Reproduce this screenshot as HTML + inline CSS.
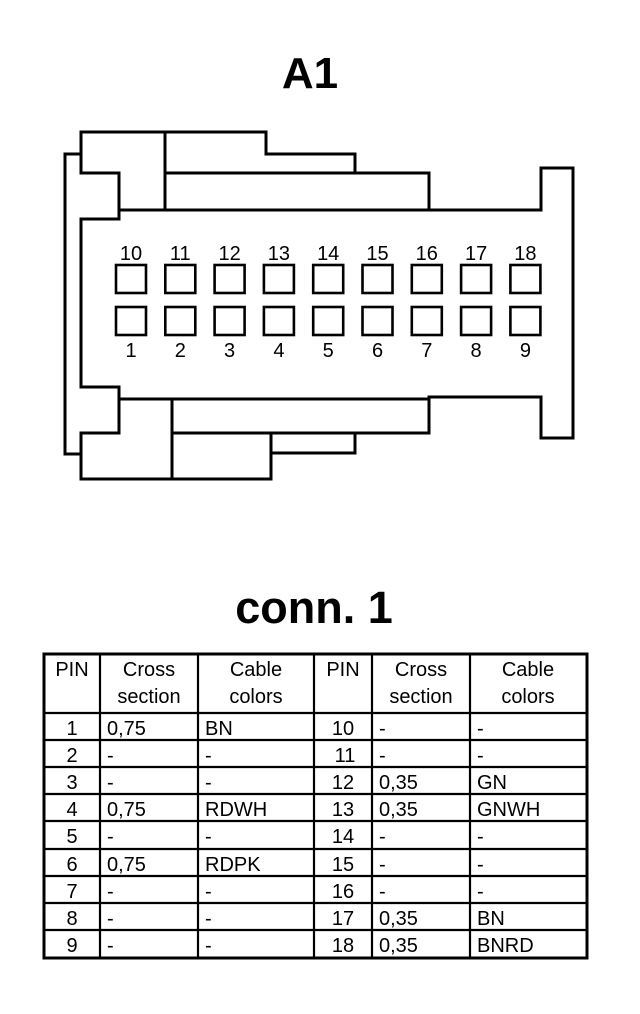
<!DOCTYPE html>
<html><head><meta charset="utf-8"><style>
html,body{margin:0;padding:0;background:#fff;width:640px;height:1014px;overflow:hidden}
svg{display:block}
text{font-family:"Liberation Sans",Arial,sans-serif;fill:#000}
</style></head><body>
<svg width="640" height="1014" viewBox="0 0 640 1014" xmlns="http://www.w3.org/2000/svg">
<text x="310" y="88" font-size="44" font-weight="bold" text-anchor="middle">A1</text>
<g fill="none" stroke="#000" stroke-width="3" stroke-linejoin="miter" stroke-linecap="square">
<polyline points="81,154 65,154 65,454 81,454"/>
<polyline points="119,210 119,173 81,173 81,132 266,132 266,154 355,154 355,173"/>
<line x1="165" y1="132" x2="165" y2="210"/>
<line x1="165" y1="173" x2="429" y2="173"/>
<line x1="429" y1="173" x2="429" y2="210"/>
<polyline points="119,210 541,210 541,168 573,168 573,438 541,438 541,397 429,397"/>
<polyline points="119,210 119,219 81,219 81,387 119,387 119,399 429,399"/>
<line x1="429" y1="397" x2="429" y2="433"/>
<polyline points="119,399 119,433 81,433 81,479 271,479 271,433"/>
<line x1="172" y1="399" x2="172" y2="479"/>
<line x1="172" y1="433" x2="429" y2="433"/>
<polyline points="355,433 355,453 271,453"/>
</g>
<g fill="none" stroke="#000" stroke-width="2.6">
<rect x="116" y="265" width="30" height="28"/><rect x="165.3" y="265" width="30" height="28"/><rect x="214.6" y="265" width="30" height="28"/><rect x="263.9" y="265" width="30" height="28"/><rect x="313.2" y="265" width="30" height="28"/><rect x="362.5" y="265" width="30" height="28"/><rect x="411.8" y="265" width="30" height="28"/><rect x="461.1" y="265" width="30" height="28"/><rect x="510.4" y="265" width="30" height="28"/>
<rect x="116" y="307" width="30" height="28"/><rect x="165.3" y="307" width="30" height="28"/><rect x="214.6" y="307" width="30" height="28"/><rect x="263.9" y="307" width="30" height="28"/><rect x="313.2" y="307" width="30" height="28"/><rect x="362.5" y="307" width="30" height="28"/><rect x="411.8" y="307" width="30" height="28"/><rect x="461.1" y="307" width="30" height="28"/><rect x="510.4" y="307" width="30" height="28"/>
</g>
<g font-size="20" text-anchor="middle">
<text x="131" y="260">10</text><text x="180.3" y="260">11</text><text x="229.6" y="260">12</text><text x="278.9" y="260">13</text><text x="328.2" y="260">14</text><text x="377.5" y="260">15</text><text x="426.8" y="260">16</text><text x="476.1" y="260">17</text><text x="525.4" y="260">18</text>
<text x="131" y="357">1</text><text x="180.3" y="357">2</text><text x="229.6" y="357">3</text><text x="278.9" y="357">4</text><text x="328.2" y="357">5</text><text x="377.5" y="357">6</text><text x="426.8" y="357">7</text><text x="476.1" y="357">8</text><text x="525.4" y="357">9</text>
</g>
<text x="314" y="623" font-size="45" font-weight="bold" text-anchor="middle">conn. 1</text>
<g stroke="#000" fill="none">
<rect x="44" y="654" width="543" height="304" stroke-width="3"/>
<g stroke-width="2.2">
<line x1="100" y1="654" x2="100" y2="958"/><line x1="198" y1="654" x2="198" y2="958"/>
<line x1="314" y1="654" x2="314" y2="958"/><line x1="372" y1="654" x2="372" y2="958"/>
<line x1="470" y1="654" x2="470" y2="958"/>
<line x1="44" y1="713" x2="587" y2="713"/><line x1="44" y1="740" x2="587" y2="740"/>
<line x1="44" y1="767" x2="587" y2="767"/><line x1="44" y1="794" x2="587" y2="794"/>
<line x1="44" y1="821" x2="587" y2="821"/><line x1="44" y1="849" x2="587" y2="849"/>
<line x1="44" y1="876" x2="587" y2="876"/><line x1="44" y1="903" x2="587" y2="903"/>
<line x1="44" y1="930" x2="587" y2="930"/>
</g></g>
<g font-size="20">
<g text-anchor="middle">
<text x="72" y="676">PIN</text><text x="149" y="676">Cross</text><text x="149" y="703">section</text>
<text x="256" y="676">Cable</text><text x="256" y="703">colors</text>
<text x="343" y="676">PIN</text><text x="421" y="676">Cross</text><text x="421" y="703">section</text>
<text x="528" y="676">Cable</text><text x="528" y="703">colors</text>
<text x="72" y="735">1</text><text x="72" y="762">2</text><text x="72" y="789">3</text><text x="72" y="816">4</text><text x="72" y="843">5</text><text x="72" y="871">6</text><text x="72" y="898">7</text><text x="72" y="925">8</text><text x="72" y="952">9</text>
<text x="343" y="735">10</text><text x="345" y="762">11</text><text x="343" y="789">12</text><text x="343" y="816">13</text><text x="343" y="843">14</text><text x="343" y="871">15</text><text x="343" y="898">16</text><text x="343" y="925">17</text><text x="343" y="952">18</text>
</g>
<text x="107" y="735">0,75</text><text x="107" y="762">-</text><text x="107" y="789">-</text><text x="107" y="816">0,75</text><text x="107" y="843">-</text><text x="107" y="871">0,75</text><text x="107" y="898">-</text><text x="107" y="925">-</text><text x="107" y="952">-</text>
<text x="205" y="735">BN</text><text x="205" y="762">-</text><text x="205" y="789">-</text><text x="205" y="816">RDWH</text><text x="205" y="843">-</text><text x="205" y="871">RDPK</text><text x="205" y="898">-</text><text x="205" y="925">-</text><text x="205" y="952">-</text>
<text x="379" y="735">-</text><text x="379" y="762">-</text><text x="379" y="789">0,35</text><text x="379" y="816">0,35</text><text x="379" y="843">-</text><text x="379" y="871">-</text><text x="379" y="898">-</text><text x="379" y="925">0,35</text><text x="379" y="952">0,35</text>
<text x="477" y="735">-</text><text x="477" y="762">-</text><text x="477" y="789">GN</text><text x="477" y="816">GNWH</text><text x="477" y="843">-</text><text x="477" y="871">-</text><text x="477" y="898">-</text><text x="477" y="925">BN</text><text x="477" y="952">BNRD</text>
</g>
</svg>
</body></html>
